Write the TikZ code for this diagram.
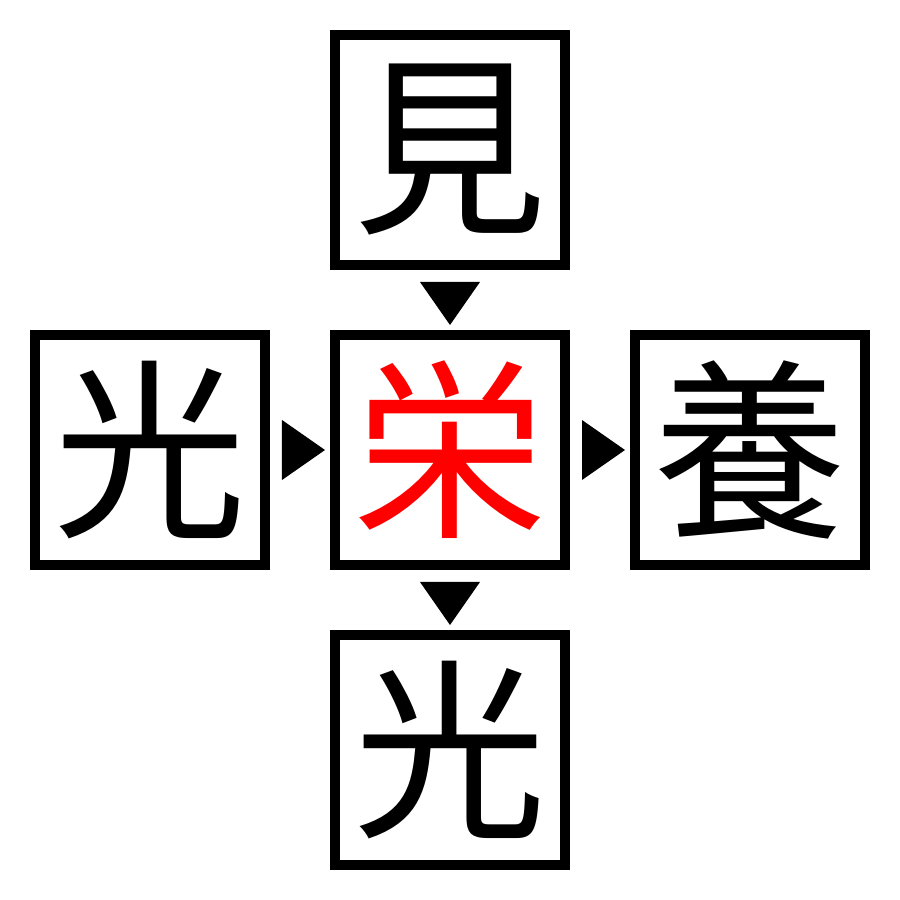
\documentclass[tikz,border=0pt]{standalone}
\usepackage{fontspec}
\newfontfamily\cjk{Noto Sans CJK JP}
\usetikzlibrary{positioning,calc}
\begin{document}
\begin{tikzpicture}[
		kanji/.style={draw=black, line width=0.1cm, minimum size=2.3cm, inner sep=0pt,
			font=\cjk\fontsize{55}{55}\selectfont},
		tip/.style={fill=black}]
			\useasboundingbox [fill=white] (0,0) rectangle (9,9);
			\node [kanji] (mid) at (4.5,4.5) {\textcolor{red}{栄}};
			\node [kanji, above=0.6cm of mid] (top) {見};
			\node [kanji, below=0.6cm of mid] (bot) {光};
			\node [kanji, left=0.6cm of mid] (lft) {光};
			\node [kanji, right=0.6cm of mid] (rgt) {養};
			\fill [tip] ($(top.south)+(-0.3,-0.12)$) -- ($(top.south)+(0.3,-0.12)$) -- ($(top.south)+(0,-0.55)$) -- cycle;
			\fill [tip] ($(mid.south)+(-0.3,-0.12)$) -- ($(mid.south)+(0.3,-0.12)$) -- ($(mid.south)+(0,-0.55)$) -- cycle;
			\fill [tip] ($(lft.east)+(0.12,0.3)$) -- ($(lft.east)+(0.12,-0.3)$) -- ($(lft.east)+(0.55,0)$) -- cycle;
			\fill [tip] ($(mid.east)+(0.12,0.3)$) -- ($(mid.east)+(0.12,-0.3)$) -- ($(mid.east)+(0.55,0)$) -- cycle;
		\end{tikzpicture}
\end{document}
